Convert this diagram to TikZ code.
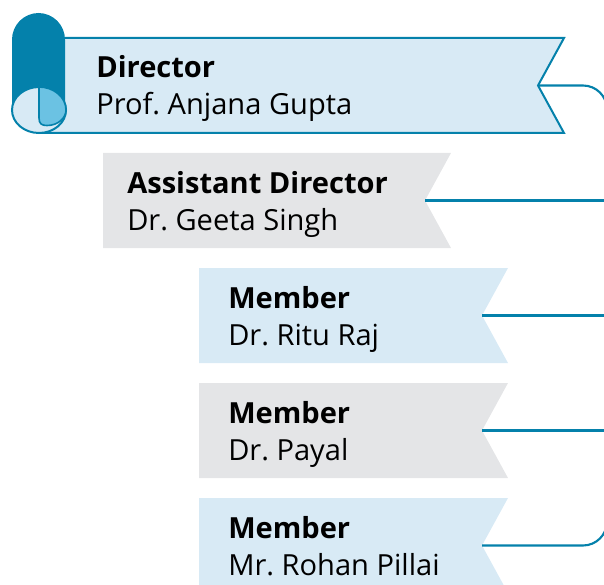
\documentclass[tikz,border=0pt]{standalone}
\usepackage{fontspec}
\setmainfont{Open Sans}
\definecolor{rimblue}{HTML}{0481AB}
\definecolor{paleblue}{HTML}{D8EAF5}
\definecolor{greybox}{HTML}{E4E5E7}
\definecolor{curlblue}{HTML}{6BC2E3}
\frenchspacing
\begin{document}
\begin{tikzpicture}[
      x=0.75pt, y=-0.75pt,              % 1 unit = 1 px, y down
      bh/.store in=\BH, bh=95,          % banner height
      nd/.store in=\ND, nd=26,          % notch depth
      rx/.store in=\RX, rx=607,         % x of the right rail
      edge/.style={draw=rimblue, line width=1.6pt},
      lbl/.style={anchor=base west, inner sep=0pt, font=\fontsize{21.8}{26}\selectfont},
    ]
    \useasboundingbox (0,0) rectangle (604,585);
    \clip (0,0) rectangle (604,585);

    % Helper macro: \banner{name}{left}{top}{right}{style}{text x}{title}{person}
    \newcommand{\banner}[8]{%
      \fill[#5] (#2,#3) -- (#4,#3) -- ({#4-\ND},{#3+\BH/2})
        -- (#4,{#3+\BH}) -- (#2,{#3+\BH}) -- cycle;
      \coordinate (#1-n) at ({#4-\ND},{#3+\BH/2});
      \node[lbl, font=\fontsize{21.8}{26}\selectfont\bfseries] (#1-t) at (#6,{#3+40}) {#7};
      \node[lbl] (#1-p) at (#6,{#3+77}) {#8};
    }

    % Banners
    \banner{dir}{39}{38}{564}{paleblue, draw=rimblue, line width=1.5pt}{96}{Director}{Prof. Anjana Gupta}
    \banner{asst}{103}{153}{451}{greybox}{127}{Assistant Director}{Dr. Geeta Singh}
    \banner{mem1}{199}{268}{508}{paleblue}{228}{Member}{Dr. Ritu Raj}
    \banner{mem2}{199}{383}{508}{greybox}{228}{Member}{Dr. Payal}
    \banner{mem3}{199}{498}{508}{paleblue}{228}{Member}{Mr. Rohan Pillai}

    % Scroll on the director banner
    \fill[rimblue, rounded corners=20pt] (12,110) -- (12,13) -- (65,13) -- (65,110);
    \draw[fill=paleblue, draw=rimblue, line width=1.5pt]
      (39,110) ellipse [x radius=27, y radius=23];
    \draw[fill=curlblue, draw=rimblue, line width=1.2pt]
      (39,87) -- (39,118) .. controls (39,124) and (42,125.5) .. (47,125.5)
      .. controls (58,125.5) and (66,118) .. (66,110)
      arc [start angle=0, end angle=-90, x radius=27, y radius=23];

    % Connectors to the rail
    \coordinate (rail) at (\RX,0);
    \draw[edge, rounded corners=18pt]
      (dir-n) -- (dir-n -| rail) -- (mem3-n -| rail) -- (mem3-n);
    \foreach \b in {asst,mem1,mem2}
      \draw[edge] (\b-n) -- (\b-n -| rail);
  \end{tikzpicture}
\end{document}
